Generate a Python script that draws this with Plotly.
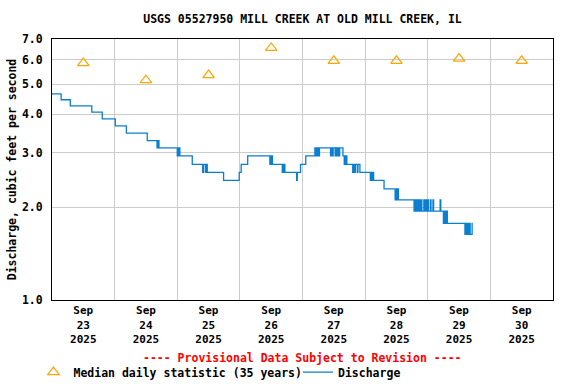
import plotly.graph_objects as go

# ---------------- data ----------------
median_days = ["2025-09-23 12:00", "2025-09-24 12:00", "2025-09-25 12:00", "2025-09-26 12:00",
               "2025-09-27 12:00", "2025-09-28 12:00", "2025-09-29 12:00", "2025-09-30 12:00"]
median_values = [5.85, 5.15, 5.35, 6.55, 5.95, 5.95, 6.05, 5.95]

# discharge (change points, step-wise 15-minute record)
q_times = [
    "2025-09-23 00:00", "2025-09-23 03:30", "2025-09-23 07:00", "2025-09-23 15:15", "2025-09-23 19:15",
    "2025-09-24 00:15", "2025-09-24 04:30", "2025-09-24 12:30", "2025-09-24 16:15", "2025-09-24 16:30",
    "2025-09-24 17:00",
    "2025-09-25 00:00", "2025-09-25 00:15", "2025-09-25 00:30", "2025-09-25 00:45", "2025-09-25 01:00",
    "2025-09-25 05:45", "2025-09-25 09:45", "2025-09-25 10:00", "2025-09-25 10:45", "2025-09-25 11:00",
    "2025-09-25 11:30", "2025-09-25 17:45", "2025-09-25 23:45",
    "2025-09-26 00:30", "2025-09-26 03:00", "2025-09-26 11:30", "2025-09-26 11:45", "2025-09-26 12:00",
    "2025-09-26 12:15", "2025-09-26 12:30", "2025-09-26 16:15", "2025-09-26 16:30", "2025-09-26 16:45",
    "2025-09-26 17:00", "2025-09-26 17:15", "2025-09-26 21:45", "2025-09-26 22:00", "2025-09-26 23:15",
    "2025-09-27 01:15", "2025-09-27 04:45", "2025-09-27 05:00", "2025-09-27 05:15", "2025-09-27 05:30",
    "2025-09-27 05:45", "2025-09-27 06:15", "2025-09-27 06:30", "2025-09-27 10:45", "2025-09-27 11:00",
    "2025-09-27 11:30", "2025-09-27 11:45", "2025-09-27 12:30", "2025-09-27 12:45", "2025-09-27 13:15",
    "2025-09-27 13:30", "2025-09-27 14:00", "2025-09-27 14:15", "2025-09-27 15:30", "2025-09-27 16:00",
    "2025-09-27 16:15", "2025-09-27 16:30", "2025-09-27 16:45", "2025-09-27 17:00", "2025-09-27 19:15",
    "2025-09-27 19:30", "2025-09-27 20:00", "2025-09-27 20:15", "2025-09-27 21:00", "2025-09-27 21:15",
    "2025-09-27 22:00",
    "2025-09-28 02:00", "2025-09-28 02:15", "2025-09-28 02:45", "2025-09-28 03:00", "2025-09-28 03:15",
    "2025-09-28 07:15", "2025-09-28 11:30", "2025-09-28 11:45", "2025-09-28 12:15", "2025-09-28 12:30",
    "2025-09-28 12:45", "2025-09-28 18:45", "2025-09-28 19:00", "2025-09-28 19:30", "2025-09-28 19:45",
    "2025-09-28 20:15", "2025-09-28 20:30", "2025-09-28 21:00", "2025-09-28 21:30", "2025-09-28 21:45",
    "2025-09-28 22:30", "2025-09-28 22:45", "2025-09-28 23:15", "2025-09-28 23:30",
    "2025-09-29 00:00", "2025-09-29 00:15", "2025-09-29 01:00", "2025-09-29 01:15", "2025-09-29 02:00",
    "2025-09-29 02:15", "2025-09-29 04:45", "2025-09-29 05:00", "2025-09-29 06:00", "2025-09-29 06:15",
    "2025-09-29 06:30", "2025-09-29 06:45", "2025-09-29 07:00", "2025-09-29 07:15", "2025-09-29 07:30",
    "2025-09-29 14:15", "2025-09-29 14:30", "2025-09-29 15:00", "2025-09-29 15:15", "2025-09-29 15:30",
    "2025-09-29 16:00", "2025-09-29 16:15", "2025-09-29 17:00", "2025-09-29 17:15",
]
q_values = [
    4.65, 4.45, 4.25, 4.06, 3.86,
    3.66, 3.47, 3.28, 3.11, 3.28,
    3.11,
    2.93, 3.11, 2.93, 3.11, 2.93,
    2.75, 2.59, 2.75, 2.59, 2.75,
    2.59, 2.44, 2.59,
    2.75, 2.93, 2.75, 2.93, 2.75,
    2.93, 2.75, 2.59, 2.75, 2.59,
    2.75, 2.59, 2.44, 2.59, 2.75,
    2.93, 3.11, 2.93, 3.11, 2.93,
    3.11, 2.93, 3.11, 2.93, 3.11,
    2.93, 3.11, 2.93, 3.11, 2.93,
    3.11, 2.93, 3.11, 2.93, 2.75,
    2.93, 2.75, 2.93, 2.75, 2.59,
    2.75, 2.59, 2.75, 2.59, 2.75,
    2.59,
    2.44, 2.59, 2.44, 2.59, 2.44,
    2.29, 2.11, 2.29, 2.11, 2.29,
    2.11, 1.94, 2.11, 1.94, 2.11,
    1.94, 2.11, 1.94, 2.11, 1.94,
    2.11, 1.94, 2.11, 1.94,
    2.11, 1.94, 2.11, 1.94, 2.11,
    1.94, 2.11, 1.94, 1.77, 1.94,
    1.77, 1.94, 1.77, 1.94, 1.77,
    1.63, 1.77, 1.63, 1.77, 1.63,
    1.77, 1.63, 1.77, 1.77,
]

y_ticks = [1, 2, 3, 4, 5, 6, 7]
y_ticklabels = ["1.0", "2.0", "3.0", "4.0", "5.0", "6.0", "7.0"]
x_label_pos = median_days
x_ticklabels = ["Sep<br>%d<br>2025" % d for d in range(23, 31)]
x_gridlines = ["2025-09-%02d 00:00" % d for d in range(24, 31)]
x_range = ["2025-09-23 00:00", "2025-10-01 00:00"]

FONT = "DejaVu Sans Mono"
LEG_FONT = dict(family=FONT, size=11.5, weight="bold", color="black")

fig = go.Figure()
fig.add_trace(go.Scatter(
    x=median_days, y=median_values, mode="markers",
    name="Median daily statistic (35 years)", legend="legend",
    marker=dict(symbol="triangle-up-open", size=10, color="#FFA500", line=dict(width=1.2, color="#FFA500")),
))
fig.add_trace(go.Scatter(
    x=q_times, y=q_values, mode="lines", line_shape="hv",
    name="Discharge", legend="legend2",
    line=dict(color="#0a7fd0", width=1.3),
))

fig.update_layout(
    width=576, height=384,
    margin=dict(l=52, r=23, t=39, b=84, autoexpand=False),
    paper_bgcolor="white", plot_bgcolor="white",
    font=dict(family=FONT, size=11.5, color="black", weight="bold"),
    title=dict(text="USGS 05527950 MILL CREEK AT OLD MILL CREEK, IL",
               x=0.5, xref="paper", xanchor="center",
               y=1 - 19 / 384, yref="container", yanchor="middle",
               font=dict(family=FONT, size=11.5, color="black", weight="bold")),
    showlegend=True,
    legend=dict(orientation="h", x=-0.037, xanchor="left", y=-0.276, yanchor="middle",
                bgcolor="rgba(0,0,0,0)", font=LEG_FONT, itemwidth=30),
    legend2=dict(orientation="h", x=0.491, xanchor="left", y=-0.276, yanchor="middle",
                 bgcolor="rgba(0,0,0,0)", font=LEG_FONT, itemwidth=30),
)

fig.update_xaxes(
    type="date", range=x_range,
    tickmode="array", tickvals=x_label_pos, ticktext=x_ticklabels,
    ticks="", showgrid=False,
    minor=dict(tickmode="array", tickvals=x_gridlines, showgrid=True, gridcolor="#cccccc", gridwidth=1, ticks=""),
    showline=True, linecolor="black", linewidth=1, mirror=True,
    tickfont=dict(family=FONT, size=11, weight="bold"),
    zeroline=False, automargin=False,
)
fig.update_yaxes(
    type="log", range=[0, 0.845098],
    tickmode="array", tickvals=y_ticks, ticktext=y_ticklabels,
    ticks="", showgrid=True, gridcolor="#cccccc", gridwidth=1,
    showline=True, linecolor="black", linewidth=1, mirror=True,
    title=dict(text="Discharge, cubic feet per second", standoff=2.5,
               font=dict(family=FONT, size=11.5, weight="bold")),
    tickfont=dict(family=FONT, size=11.5, weight="bold"),
    ticklabelstandoff=6,
    zeroline=False, automargin=False,
)

fig.add_annotation(
    text="---- Provisional Data Subject to Revision ----",
    xref="paper", yref="paper", x=0.5, y=(300 - 358) / 261,
    xanchor="center", yanchor="middle", showarrow=False,
    font=dict(family=FONT, size=11.5, color="#ff0000", weight="bold"),
)

fig.write_html("out.html", config={"displayModeBar": False},
               post_script="document.body.style.margin='0px';")
